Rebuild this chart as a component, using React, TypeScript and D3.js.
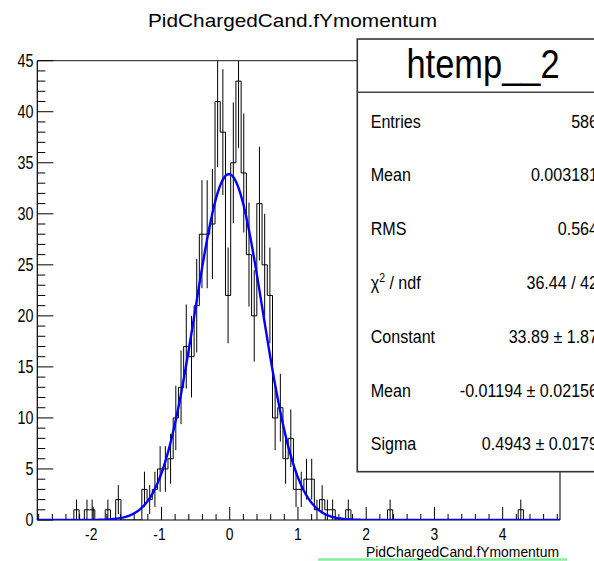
import React from 'react';
import * as d3 from 'd3';

// ---- data ----
const binCounts: number[] = [
  0, 0, 0, 0, 0, 0, 0, 1, 0, 1,
  1, 0, 0, 1, 0, 2, 0, 0, 0, 0,
  3, 2, 3, 5, 5, 6, 10, 13, 17, 16,
  21, 28, 28, 29, 41, 38, 22, 35, 43, 34,
  26, 20, 31, 25, 22, 10, 11, 6, 8, 3,
  3, 4, 4, 1, 2, 1, 1, 0, 0, 1,
  0, 0, 0, 0, 0, 0, 0, 1, 0, 0,
  0, 0, 0, 0, 0, 0, 0, 0, 0, 0,
  0, 0, 0, 0, 0, 0, 0, 0, 0, 0,
  0, 0, 1, 0, 0, 0, 0, 0, 0, 0,
];
const xMin = -2.82;
const xMax = 4.84;
const yMax = 45;
const xTicks = [-2, -1, 0, 1, 2, 3, 4];
const yTicks = [0, 5, 10, 15, 20, 25, 30, 35, 40, 45];
const fitConstant = 33.89;
const fitMean = -0.01194;
const fitSigma = 0.4943;
const chartTitle = 'PidChargedCand.fYmomentum';
const xAxisTitle = 'PidChargedCand.fYmomentum';
const statsTitle = 'htemp__2';
const statLabels = ['Entries', 'Mean', 'RMS', 'CHI', 'Constant', 'Mean', 'Sigma'];
const statValues = ['586', '0.003181', '0.564', '36.44 / 42', '33.89 \u00b1 1.87', '-0.01194 \u00b1 0.02156', '0.4943 \u00b1 0.0179'];

const W = 594;
const H = 561;
const FL = 37.3, FR = 560, FT = 60.7, FB = 520;
const font = "'Liberation Sans', Arial, Helvetica, sans-serif";

export default function App() {
  const x = d3.scaleLinear().domain([xMin, xMax]).range([FL, FR]);
  const y = d3.scaleLinear().domain([0, yMax]).range([FB, FT]);
  const nb = binCounts.length;
  const bw = (xMax - xMin) / nb;

  const pts: [number, number][] = [[x(xMin), y(0)]];
  binCounts.forEach((c, i) => {
    pts.push([x(xMin + i * bw), y(c)]);
    pts.push([x(xMin + (i + 1) * bw), y(c)]);
  });
  pts.push([x(xMax), y(0)]);
  const histPath = d3.line()(pts) || '';

  const fitPts: [number, number][] = d3.range(0, 401).map((k) => {
    const xv = xMin + ((xMax - xMin) * k) / 400;
    const v = fitConstant * Math.exp(-0.5 * ((xv - fitMean) / fitSigma) ** 2);
    return [x(xv), y(v)];
  });
  const fitPath = d3.line()(fitPts) || '';

  const xMinor = d3.range(-2.8, 4.81, 0.2).map((v) => Math.round(v * 10) / 10);
  const yMinor = d3.range(0, yMax + 0.5, 1);

  const boxL = 357.3, boxT = 39, boxB = 471.7, boxR = 612;
  const rowY0 = 121, rowDy = 53.8;

  return (
    <svg width={W} height={H} style={{ position: 'fixed', left: 0, top: 0, background: '#fff' }}>
      <rect x={0} y={0} width={W} height={H} fill="#fff" />
      {/* title */}
      <text x={292.5} y={27} fontFamily={font} fontSize={19} textAnchor="middle" textLength={289} lengthAdjust="spacingAndGlyphs" fill="#000">{chartTitle}</text>

      <defs>
        <clipPath id="frameClip">
          <rect x={FL} y={FT} width={FR - FL} height={FB - FT} />
        </clipPath>
      </defs>

      {/* frame */}
      <line x1={FL} x2={FR} y1={FT} y2={FT} stroke="#444" strokeWidth={1.2} />
      <line x1={FR} x2={FR} y1={FT} y2={FB} stroke="#222" strokeWidth={1.2} />

      {/* error bars */}
      <g clipPath="url(#frameClip)" stroke="#000" strokeWidth={1}>
        {binCounts.map((c, i) =>
          c > 0 ? (
            <line key={i} x1={x(xMin + (i + 0.5) * bw)} x2={x(xMin + (i + 0.5) * bw)}
              y1={y(Math.max(0, c - Math.sqrt(c)))} y2={y(Math.min(yMax, c + Math.sqrt(c)))} />
          ) : null
        )}
      </g>
      {/* histogram */}
      <path d={histPath} fill="none" stroke="#000" strokeWidth={1} clipPath="url(#frameClip)" />

      {/* axes */}
      <line x1={FL} x2={FL} y1={FT} y2={FB} stroke="#000" strokeWidth={1.2} />
      <line x1={FL} x2={FR} y1={FB} y2={FB} stroke="#000" strokeWidth={1.2} />
      {yMinor.map((v) => (
        <line key={'ym' + v} x1={FL} x2={FL + (v % 5 === 0 ? 16 : 8)} y1={y(v)} y2={y(v)} stroke="#000" strokeWidth={1} />
      ))}
      {xMinor.map((v) => (
        <line key={'xm' + v} x1={x(v)} x2={x(v)} y1={FB} y2={FB - (Math.abs(v - Math.round(v)) < 1e-6 ? 13 : 6)} stroke="#000" strokeWidth={1} />
      ))}
      {yTicks.map((v) => (
        <text key={'yl' + v} transform={`translate(${33.5},${y(v) + 6}) scale(0.82,1)`} fontFamily={font} fontSize={17.5} textAnchor="end" fill="#000">{v}</text>
      ))}
      {xTicks.map((v) => (
        <text key={'xl' + v} transform={`translate(${x(v) - (v < 0 ? 2 : 0)},${540}) scale(0.82,1)`} fontFamily={font} fontSize={17} textAnchor="middle" fill="#000">{v}</text>
      ))}

      {/* fit */}
      <path d={fitPath} fill="none" stroke="#0000ff" strokeWidth={2.4} clipPath="url(#frameClip)" />

      {/* x axis title */}
      <line x1={318} x2={567} y1={559.5} y2={559.5} stroke="#86ee9e" strokeWidth={2.5} />
      <text x={366} y={556.5} fontFamily={font} fontSize={15} textLength={193} lengthAdjust="spacingAndGlyphs" fill="#000">{xAxisTitle}</text>

      {/* stats box */}
      <rect x={boxL} y={boxT} width={boxR - boxL} height={boxB - boxT} fill="#fff" stroke="#333" strokeWidth={1.6} />
      <line x1={boxL} x2={boxR} y1={92.3} y2={92.3} stroke="#444" strokeWidth={1.4} />
      <text transform={`translate(${483},${77.5}) scale(0.84,1)`} fontFamily={font} fontSize={41} textAnchor="middle" fill="#000">{statsTitle}</text>
      {statLabels.map((lab, i) => (
        <text key={'sl' + i} transform={`translate(${370.7},${rowY0 + i * rowDy + 6.5}) scale(0.87,1)`} fontFamily={font} fontSize={18.5} fill="#000">
          {lab === 'CHI' ? (
            <>
              <tspan>{'\u03c7'}</tspan>
              <tspan fontSize={12} dy={-7}>2</tspan>
              <tspan dy={7}>{' / ndf'}</tspan>
            </>
          ) : lab}
        </text>
      ))}
      {statValues.map((val, i) => (
        <text key={'sv' + i} transform={`translate(${598},${rowY0 + i * rowDy + 6.5}) scale(0.87,1)`} fontFamily={font} fontSize={18.5} textAnchor="end" fill="#000">{val}</text>
      ))}
    </svg>
  );
}
